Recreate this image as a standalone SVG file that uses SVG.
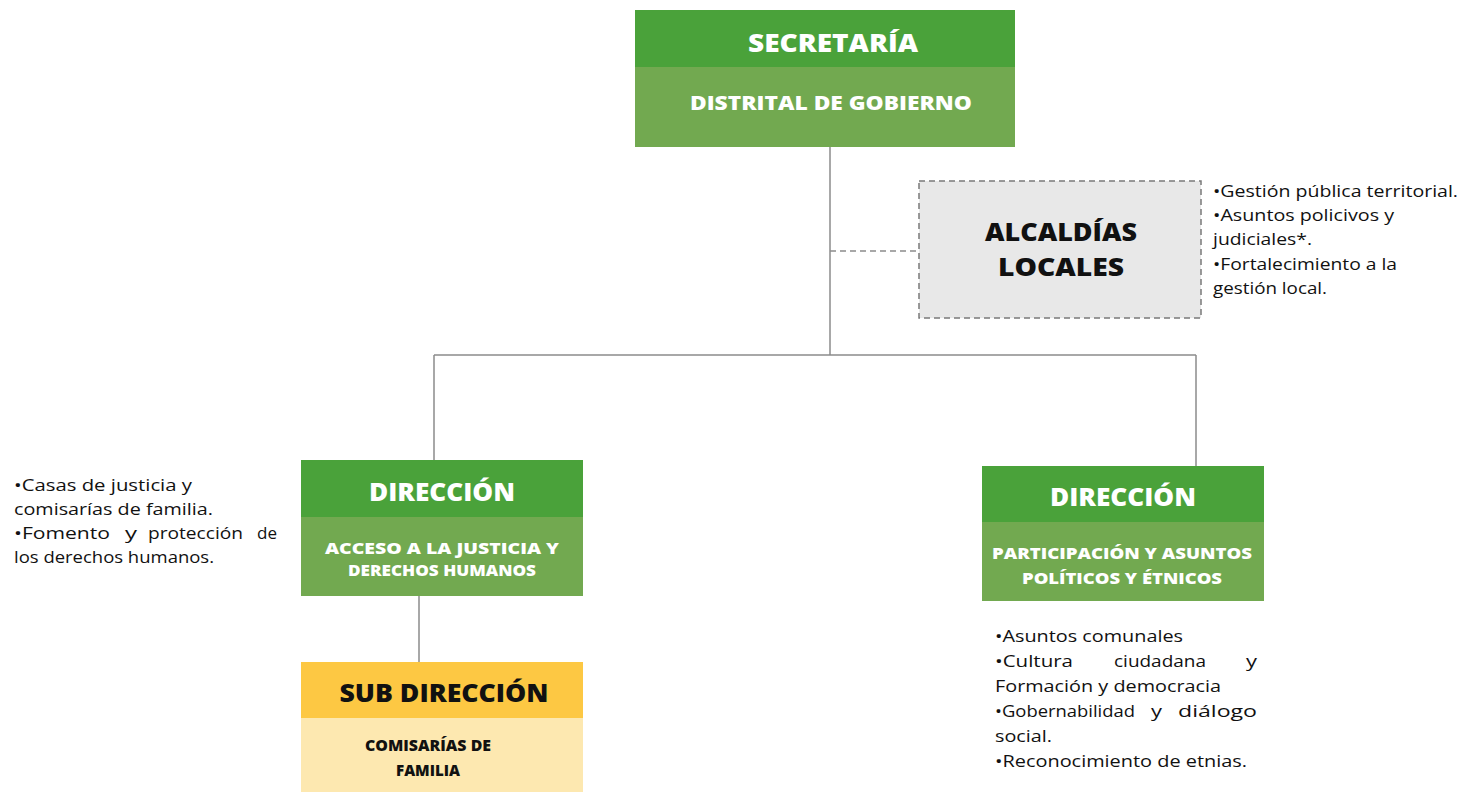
<svg xmlns="http://www.w3.org/2000/svg" width="1467" height="792" viewBox="0 0 1467 792">
<style>
.dk{fill:#4aa23a}
.lt{fill:#72a950}
.h{font-family:"Open Sans","Liberation Sans",sans-serif;font-weight:800;text-anchor:middle}
.w{fill:#fff}
.b{fill:#111}
.t{font-family:"Open Sans","Liberation Sans",sans-serif;font-size:17px;fill:#111}
.ln{stroke:#8c8c8c;stroke-width:1.5;fill:none}
</style>
<rect width="1467" height="792" fill="#fff"/>
<g id="connectors">
<path class="ln" d="M830 147V355M434 355H1196M434 355V460M1196 355V466M419 596V662"/>
<path class="ln" d="M830 251H919" stroke-dasharray="6,4"/>
</g>
<g id="secretaria">
<rect class="dk" x="635" y="10" width="380" height="57"/>
<rect class="lt" x="635" y="67" width="380" height="80"/>
<text class="h w" x="833" y="52" font-size="24" textLength="170" lengthAdjust="spacingAndGlyphs">SECRETARÍA</text>
<text class="h w" x="831" y="110" font-size="19" textLength="282" lengthAdjust="spacingAndGlyphs">DISTRITAL DE GOBIERNO</text>
</g>
<g id="alcaldias">
<rect x="919" y="181" width="282" height="137" fill="#e8e8e8" stroke="#7a7a7a" stroke-width="1.5" stroke-dasharray="6,4"/>
<text class="h b" x="1061" y="241" font-size="24" textLength="152" lengthAdjust="spacingAndGlyphs">ALCALDÍAS</text>
<text class="h b" x="1061" y="276" font-size="24" textLength="126" lengthAdjust="spacingAndGlyphs">LOCALES</text>
</g>
<g id="alcaldias-notes">
<text class="t" x="1213" y="197" textLength="245" lengthAdjust="spacingAndGlyphs">•Gestión pública territorial.</text>
<text class="t" x="1213" y="221" textLength="181" lengthAdjust="spacingAndGlyphs">•Asuntos policivos y</text>
<text class="t" x="1213" y="245" textLength="99" lengthAdjust="spacingAndGlyphs">judiciales*.</text>
<text class="t" x="1213" y="270" textLength="184" lengthAdjust="spacingAndGlyphs">•Fortalecimiento a la</text>
<text class="t" x="1213" y="294" textLength="114" lengthAdjust="spacingAndGlyphs">gestión local.</text>
</g>
<g id="direccion-justicia">
<rect class="dk" x="301" y="460" width="282" height="57"/>
<rect class="lt" x="301" y="517" width="282" height="79"/>
<text class="h w" x="442" y="501" font-size="24" textLength="146" lengthAdjust="spacingAndGlyphs">DIRECCIÓN</text>
<text class="h w" x="442" y="554" font-size="16" textLength="234" lengthAdjust="spacingAndGlyphs">ACCESO A LA JUSTICIA Y</text>
<text class="h w" x="442" y="576" font-size="16" textLength="188" lengthAdjust="spacingAndGlyphs">DERECHOS HUMANOS</text>
</g>
<g id="justicia-notes">
<text class="t" x="14" y="491" textLength="178" lengthAdjust="spacingAndGlyphs">•Casas de justicia y</text>
<text class="t" x="14" y="515" textLength="199" lengthAdjust="spacingAndGlyphs">comisarías de familia.</text>
<text class="t" x="14" y="539" textLength="96" lengthAdjust="spacingAndGlyphs">•Fomento</text>
<text class="t" x="125" y="539" textLength="12" lengthAdjust="spacingAndGlyphs">y</text>
<text class="t" x="148" y="539" textLength="95" lengthAdjust="spacingAndGlyphs">protección</text>
<text class="t" x="257" y="539" textLength="20" lengthAdjust="spacingAndGlyphs">de</text>
<text class="t" x="14" y="563" textLength="200" lengthAdjust="spacingAndGlyphs">los derechos humanos.</text>
</g>
<g id="subdireccion">
<rect x="301" y="662" width="282" height="56" fill="#fdc843"/>
<rect x="301" y="718" width="282" height="74" fill="#fde8b0"/>
<text class="h b" x="444" y="702" font-size="24" textLength="209" lengthAdjust="spacingAndGlyphs">SUB DIRECCIÓN</text>
<text class="h b" x="428" y="751" font-size="16" textLength="126" lengthAdjust="spacingAndGlyphs">COMISARÍAS DE</text>
<text class="h b" x="428" y="776" font-size="16" textLength="64" lengthAdjust="spacingAndGlyphs">FAMILIA</text>
</g>
<g id="direccion-participacion">
<rect class="dk" x="982" y="466" width="282" height="56"/>
<rect class="lt" x="982" y="522" width="282" height="79"/>
<text class="h w" x="1123" y="506" font-size="24" textLength="146" lengthAdjust="spacingAndGlyphs">DIRECCIÓN</text>
<text class="h w" x="1122" y="559" font-size="16" textLength="260" lengthAdjust="spacingAndGlyphs">PARTICIPACIÓN Y ASUNTOS</text>
<text class="h w" x="1122" y="584" font-size="16" textLength="200" lengthAdjust="spacingAndGlyphs">POLÍTICOS Y ÉTNICOS</text>
</g>
<g id="participacion-notes">
<text class="t" x="995" y="642" textLength="188" lengthAdjust="spacingAndGlyphs">•Asuntos comunales</text>
<text class="t" x="995" y="667" textLength="78" lengthAdjust="spacingAndGlyphs">•Cultura</text>
<text class="t" x="1114" y="667" textLength="92" lengthAdjust="spacingAndGlyphs">ciudadana</text>
<text class="t" x="1246" y="667" textLength="11" lengthAdjust="spacingAndGlyphs">y</text>
<text class="t" x="995" y="692" textLength="226" lengthAdjust="spacingAndGlyphs">Formación y democracia</text>
<text class="t" x="995" y="717" textLength="140" lengthAdjust="spacingAndGlyphs">•Gobernabilidad</text>
<text class="t" x="1151" y="717" textLength="11" lengthAdjust="spacingAndGlyphs">y</text>
<text class="t" x="1178" y="717" textLength="79" lengthAdjust="spacingAndGlyphs">diálogo</text>
<text class="t" x="995" y="742" textLength="57" lengthAdjust="spacingAndGlyphs">social.</text>
<text class="t" x="995" y="767" textLength="252" lengthAdjust="spacingAndGlyphs">•Reconocimiento de etnias.</text>
</g>
</svg>
